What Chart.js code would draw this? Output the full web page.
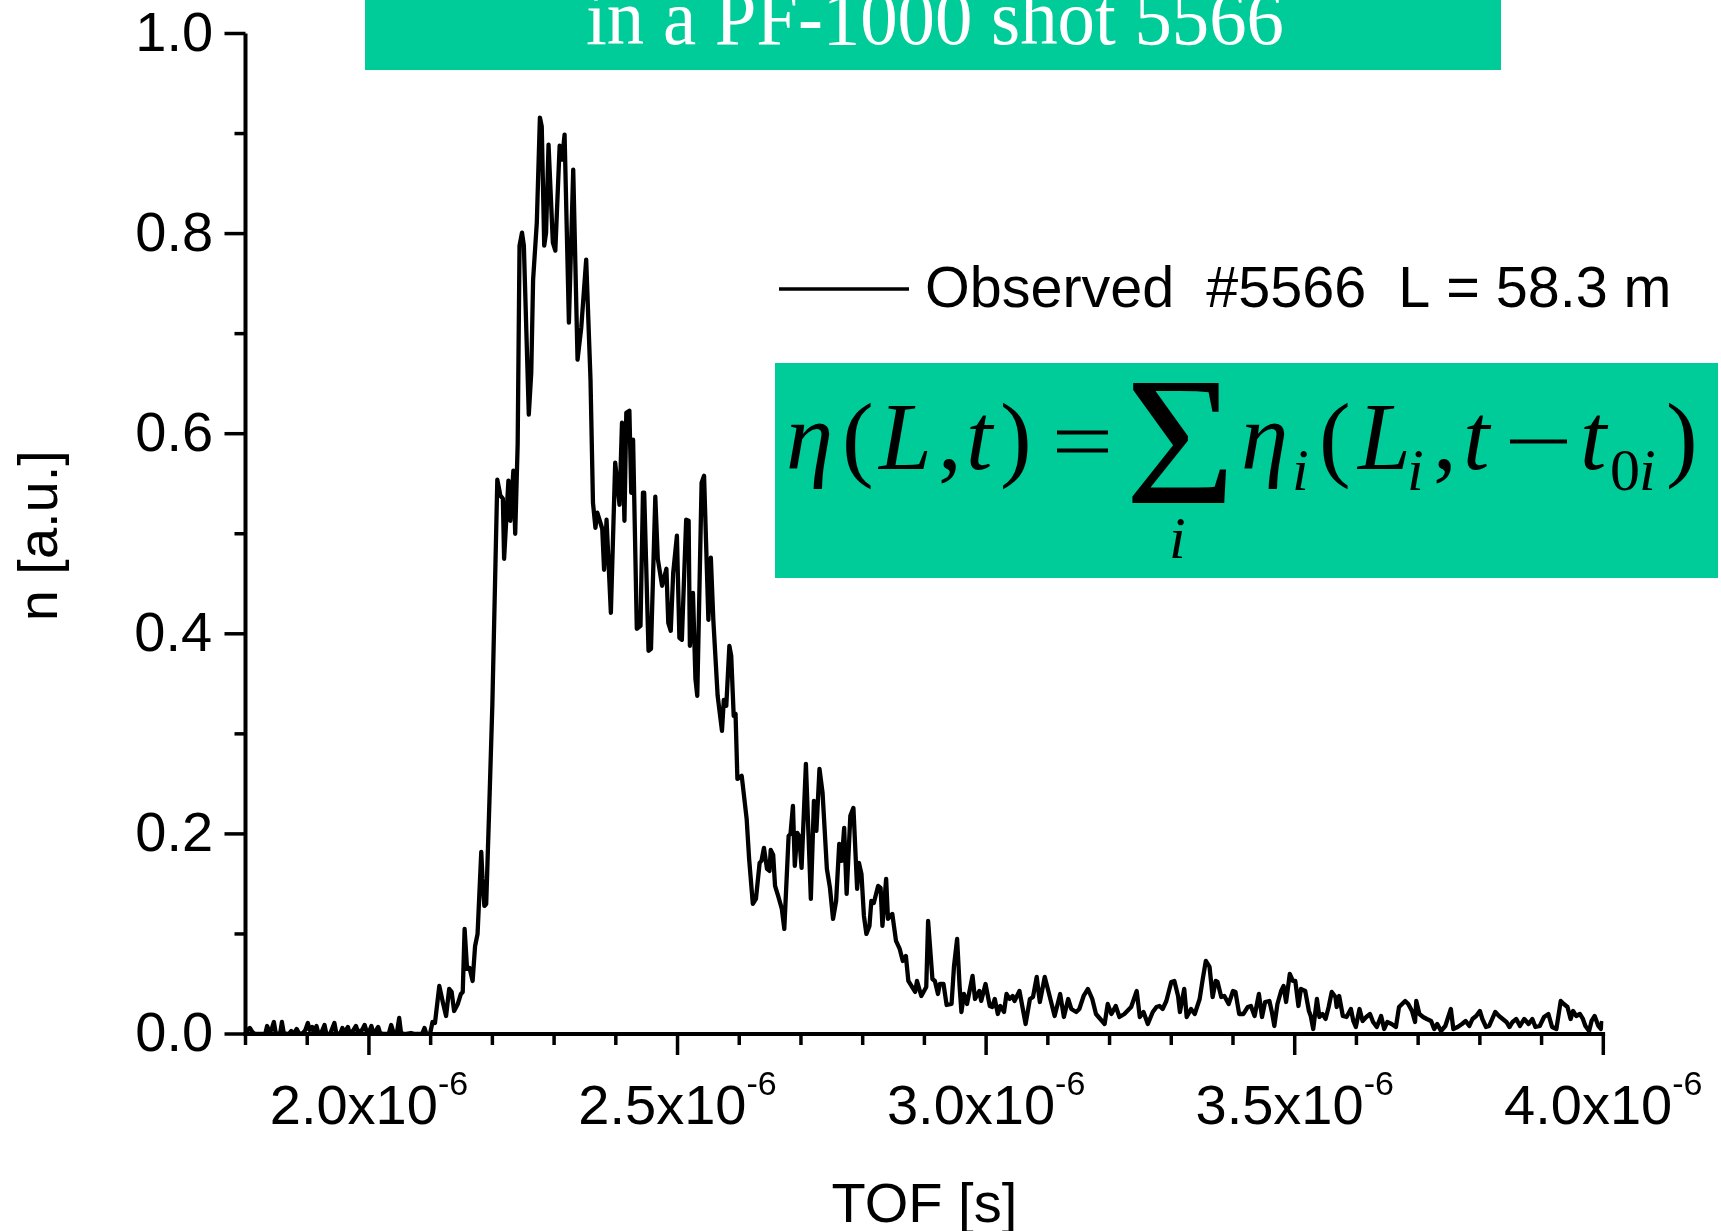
<!DOCTYPE html>
<html>
<head>
<meta charset="utf-8">
<script src="https://cdn.jsdelivr.net/npm/chart.js@4.4.1/dist/chart.umd.min.js"></script>
<style>
html,body{margin:0;padding:0;background:#fff;overflow:hidden}
canvas{display:block}
</style>
</head>
<body>
<canvas id="c" width="1721" height="1231"></canvas>
<script>
// ---------- DATA (TOF in units of 1e-6 s, signal in a.u.) ----------
const tofMicro = [
1.800,1.803,1.807,1.811,1.815,1.832,1.835,1.838,1.842,1.846,1.849,1.856,1.859,1.862,1.870,1.874,1.878,1.883,1.887,1.893,
1.897,1.901,1.904,1.908,1.911,1.915,1.918,1.922,1.928,1.931,1.937,1.944,1.947,1.953,1.957,1.960,1.966,1.969,1.975,1.979,
1.982,1.989,1.993,1.996,2.000,2.004,2.007,2.011,2.015,2.018,2.024,2.032,2.036,2.040,2.045,2.049,2.052,2.058,2.068,2.075,
2.086,2.090,2.093,2.099,2.103,2.107,2.114,2.120,2.125,2.130,2.134,2.138,2.144,2.149,2.152,2.155,2.159,2.163,2.168,2.172,
2.176,2.182,2.184,2.187,2.190,2.195,2.200,2.205,2.208,2.213,2.217,2.219,2.226,2.229,2.234,2.237,2.241,2.244,2.248,2.251,
2.259,2.263,2.266,2.272,2.277,2.280,2.284,2.287,2.291,2.298,2.302,2.309,2.313,2.317,2.324,2.331,2.338,2.344,2.352,2.359,
2.363,2.367,2.370,2.378,2.381,2.385,2.392,2.399,2.406,2.410,2.414,2.417,2.422,2.425,2.428,2.434,2.440,2.444,2.446,2.453,
2.457,2.464,2.468,2.475,2.482,2.485,2.489,2.493,2.499,2.503,2.507,2.514,2.518,2.520,2.525,2.529,2.532,2.539,2.543,2.550,
2.554,2.558,2.565,2.572,2.575,2.579,2.584,2.587,2.591,2.594,2.597,2.604,2.612,2.616,2.622,2.627,2.633,2.636,2.640,2.645,
2.649,2.651,2.655,2.658,2.663,2.669,2.673,2.680,2.683,2.687,2.690,2.694,2.697,2.701,2.708,2.716,2.721,2.725,2.730,2.735,
2.742,2.747,2.752,2.757,2.762,2.766,2.770,2.774,2.780,2.785,2.791,2.794,2.798,2.802,2.806,2.811,2.814,2.818,2.825,2.829,
2.832,2.838,2.841,2.848,2.854,2.860,2.865,2.870,2.874,2.885,2.888,2.895,2.903,2.906,2.913,2.917,2.922,2.925,2.931,2.936,
2.944,2.948,2.953,2.957,2.960,2.964,2.969,2.978,2.982,2.989,2.992,2.999,3.006,3.010,3.014,3.019,3.023,3.029,3.033,3.038,
3.043,3.046,3.054,3.064,3.071,3.076,3.082,3.087,3.095,3.100,3.111,3.120,3.126,3.133,3.138,3.146,3.151,3.158,3.165,3.172,
3.178,3.185,3.192,3.197,3.203,3.210,3.216,3.224,3.235,3.244,3.249,3.255,3.262,3.270,3.276,3.281,3.286,3.292,3.300,3.305,
3.311,3.314,3.321,3.325,3.332,3.338,3.346,3.351,3.356,3.362,3.367,3.372,3.375,3.381,3.386,3.393,3.400,3.404,3.410,3.417,
3.424,3.429,3.435,3.442,3.447,3.452,3.459,3.463,3.467,3.472,3.478,3.482,3.486,3.492,3.497,3.501,3.506,3.510,3.517,3.523,
3.526,3.530,3.536,3.540,3.545,3.550,3.555,3.560,3.566,3.568,3.572,3.578,3.584,3.591,3.595,3.599,3.605,3.610,3.616,3.622,
3.627,3.633,3.640,3.645,3.650,3.657,3.664,3.669,3.679,3.684,3.690,3.695,3.697,3.702,3.708,3.714,3.721,3.726,3.731,3.737,
3.744,3.753,3.757,3.764,3.771,3.777,3.783,3.788,3.794,3.800,3.804,3.810,3.815,3.825,3.831,3.837,3.843,3.848,3.853,3.859,
3.865,3.872,3.879,3.885,3.890,3.897,3.904,3.911,3.917,3.924,3.931,3.936,3.942,3.947,3.951,3.956,3.962,3.967,3.971,3.977,
3.981,3.986,3.992,3.996,3.998
];
const neutronSignal = [
0.000,0.004,0.006,0.002,0.000,0.000,0.008,0.003,0.004,0.012,0.001,0.000,0.012,0.001,0.000,0.003,0.000,0.005,0.000,0.001,
0.004,0.011,0.004,0.007,0.001,0.008,0.001,0.000,0.009,0.000,0.000,0.011,0.001,0.000,0.006,0.001,0.007,0.000,0.004,0.008,
0.002,0.004,0.009,0.003,0.002,0.008,0.001,0.003,0.007,0.001,0.000,0.000,0.009,0.001,0.000,0.016,0.001,0.000,0.001,0.000,
0.000,0.006,0.000,0.000,0.012,0.011,0.048,0.031,0.018,0.045,0.042,0.023,0.030,0.040,0.042,0.105,0.065,0.066,0.053,0.088,
0.100,0.182,0.155,0.128,0.130,0.228,0.330,0.470,0.554,0.538,0.535,0.475,0.553,0.513,0.563,0.500,0.590,0.788,0.801,0.788,
0.619,0.661,0.754,0.811,0.916,0.907,0.788,0.801,0.889,0.791,0.783,0.888,0.874,0.899,0.711,0.864,0.674,0.706,0.774,0.654,
0.531,0.506,0.521,0.505,0.464,0.514,0.421,0.571,0.529,0.611,0.513,0.621,0.623,0.541,0.594,0.405,0.408,0.541,0.541,0.383,
0.385,0.537,0.475,0.448,0.465,0.411,0.403,0.461,0.498,0.396,0.394,0.514,0.513,0.388,0.441,0.355,0.338,0.551,0.558,0.414,
0.476,0.414,0.338,0.303,0.334,0.328,0.388,0.378,0.318,0.320,0.255,0.258,0.215,0.175,0.130,0.135,0.171,0.173,0.186,0.165,
0.163,0.184,0.179,0.148,0.138,0.125,0.105,0.198,0.200,0.228,0.168,0.201,0.198,0.166,0.270,0.135,0.233,0.203,0.265,0.241,
0.165,0.146,0.115,0.133,0.190,0.173,0.206,0.140,0.218,0.226,0.145,0.171,0.160,0.118,0.100,0.108,0.133,0.131,0.148,0.146,
0.108,0.155,0.115,0.120,0.093,0.085,0.073,0.078,0.053,0.042,0.053,0.038,0.047,0.113,0.055,0.053,0.040,0.050,0.050,0.029,
0.030,0.068,0.095,0.048,0.022,0.040,0.030,0.058,0.035,0.043,0.033,0.050,0.028,0.027,0.035,0.020,0.028,0.022,0.040,0.035,
0.038,0.033,0.043,0.010,0.035,0.037,0.057,0.032,0.057,0.045,0.018,0.040,0.017,0.035,0.025,0.022,0.025,0.038,0.045,0.035,
0.020,0.015,0.010,0.030,0.020,0.028,0.017,0.020,0.027,0.043,0.017,0.022,0.010,0.022,0.027,0.028,0.025,0.033,0.052,0.053,
0.038,0.022,0.045,0.017,0.025,0.020,0.035,0.055,0.073,0.067,0.037,0.053,0.052,0.037,0.038,0.030,0.043,0.042,0.020,0.020,
0.027,0.028,0.018,0.040,0.017,0.032,0.033,0.022,0.008,0.030,0.043,0.048,0.032,0.060,0.053,0.053,0.028,0.045,0.043,0.023,
0.018,0.005,0.035,0.017,0.020,0.015,0.027,0.042,0.037,0.027,0.038,0.018,0.017,0.025,0.013,0.007,0.025,0.013,0.017,0.020,
0.012,0.007,0.018,0.005,0.012,0.010,0.007,0.027,0.033,0.030,0.023,0.012,0.033,0.020,0.017,0.015,0.013,0.005,0.010,0.003,
0.008,0.025,0.005,0.007,0.010,0.013,0.008,0.015,0.018,0.023,0.015,0.007,0.008,0.022,0.018,0.015,0.012,0.007,0.012,0.015,
0.008,0.015,0.010,0.015,0.007,0.008,0.017,0.020,0.007,0.005,0.033,0.030,0.027,0.015,0.023,0.018,0.020,0.015,0.008,0.003,
0.013,0.018,0.008,0.005,0.013
];
const xMajorTicks = [2.0, 2.5, 3.0, 3.5, 4.0];
const xTickLabels = ['2.0x10', '2.5x10', '3.0x10', '3.5x10', '4.0x10'];
const xTickExponent = '-6';
const xMinorTicks = [1.8,1.9,2.1,2.2,2.3,2.4,2.6,2.7,2.8,2.9,3.1,3.2,3.3,3.4,3.6,3.7,3.8,3.9];
const yMajorTicks = [0.0, 0.2, 0.4, 0.6, 0.8, 1.0];
const yTickLabels = ['0.0', '0.2', '0.4', '0.6', '0.8', '1.0'];
const yMinorTicks = [0.1, 0.3, 0.5, 0.7, 0.9];
const seriesName = 'Observed  #5566  L = 58.3 m';
const titleText = 'in a PF-1000 shot 5566';
const xTitle = 'TOF [s]';
const yTitle = 'n [a.u.]';

// ---------- helpers ----------
const GREEN = '#00CC99';
function inkLeft(ctx, text, font, left, baseline, width) {
  ctx.font = font;
  ctx.textAlign = 'left';
  ctx.textBaseline = 'alphabetic';
  const m = ctx.measureText(text);
  const w = m.actualBoundingBoxLeft + m.actualBoundingBoxRight;
  const sx = width ? width / w : 1;
  ctx.save();
  ctx.translate(left, baseline);
  ctx.scale(sx, 1);
  ctx.fillText(text, m.actualBoundingBoxLeft, 0);
  ctx.restore();
}
function inkRight(ctx, text, font, right, baseline) {
  ctx.font = font;
  ctx.textAlign = 'left';
  ctx.textBaseline = 'alphabetic';
  const m = ctx.measureText(text);
  ctx.fillText(text, right - m.actualBoundingBoxRight, baseline);
}
function fitBox(ctx, text, font, l, r, t, b) {
  ctx.font = font;
  ctx.textAlign = 'left';
  ctx.textBaseline = 'alphabetic';
  const m = ctx.measureText(text);
  const w = m.actualBoundingBoxLeft + m.actualBoundingBoxRight;
  const h = m.actualBoundingBoxAscent + m.actualBoundingBoxDescent;
  ctx.save();
  ctx.translate(l, t);
  ctx.scale((r - l) / w, (b - t) / h);
  ctx.fillText(text, m.actualBoundingBoxLeft, m.actualBoundingBoxAscent);
  ctx.restore();
}

const decor = {
  id: 'decor',
  beforeDraw(chart) {
    const ctx = chart.ctx;
    ctx.save();
    ctx.fillStyle = '#fff';
    ctx.fillRect(0, 0, chart.width, chart.height);
    ctx.restore();
  },
  afterDraw(chart) {
    const ctx = chart.ctx;
    const xs = chart.scales.x, ys = chart.scales.y;
    const yb = ys.getPixelForValue(0), yt = ys.getPixelForValue(1);
    const xl = xs.getPixelForValue(1.8), xr = xs.getPixelForValue(4.0);
    ctx.save();
    ctx.strokeStyle = '#000';
    ctx.fillStyle = '#000';
    ctx.lineCap = 'butt';
    // axis lines
    ctx.lineWidth = 4;
    ctx.beginPath(); ctx.moveTo(xl, yb + 2); ctx.lineTo(xl, yt); ctx.stroke();
    ctx.beginPath(); ctx.moveTo(xl - 2, yb); ctx.lineTo(xr + 1.8, yb); ctx.stroke();
    // ticks
    ctx.lineWidth = 3.5;
    const MAJ = 21, MIN = 11;
    xMajorTicks.forEach(v => { const p = xs.getPixelForValue(v); ctx.beginPath(); ctx.moveTo(p, yb); ctx.lineTo(p, yb + MAJ); ctx.stroke(); });
    xMinorTicks.forEach(v => { const p = xs.getPixelForValue(v); ctx.beginPath(); ctx.moveTo(p, yb); ctx.lineTo(p, yb + MIN); ctx.stroke(); });
    yMajorTicks.forEach(v => { const p = ys.getPixelForValue(v); ctx.beginPath(); ctx.moveTo(xl, p); ctx.lineTo(xl - MAJ, p); ctx.stroke(); });
    yMinorTicks.forEach(v => { const p = ys.getPixelForValue(v); ctx.beginPath(); ctx.moveTo(xl, p); ctx.lineTo(xl - MIN, p); ctx.stroke(); });
    // y tick labels
    const lblFont = '56px "Liberation Sans", Arial, sans-serif';
    yMajorTicks.forEach((v, i) => inkRight(ctx, yTickLabels[i], lblFont, 211, ys.getPixelForValue(v) + 17));
    // x tick labels with superscript exponent
    const supFont = '34px "Liberation Sans", Arial, sans-serif';
    ctx.textAlign = 'left'; ctx.textBaseline = 'alphabetic';
    xMajorTicks.forEach((v, i) => {
      const p = xs.getPixelForValue(v);
      ctx.font = lblFont;
      const w1 = ctx.measureText(xTickLabels[i]).width;
      ctx.font = supFont;
      const w2 = ctx.measureText(xTickExponent).width;
      const start = p - (w1 + w2) / 2;
      ctx.font = lblFont; ctx.fillText(xTickLabels[i], start, 1124);
      ctx.font = supFont; ctx.fillText(xTickExponent, start + w1, 1095);
    });
    // axis titles
    ctx.font = '56px "Liberation Sans", Arial, sans-serif';
    ctx.textAlign = 'center'; ctx.textBaseline = 'alphabetic';
    ctx.fillText(xTitle, (xl + xr) / 2, 1222);
    ctx.save();
    ctx.translate(57, (yb + yt) / 2 + 2);
    ctx.rotate(-Math.PI / 2);
    ctx.fillText(yTitle, 0, 0);
    ctx.restore();
    // legend
    ctx.lineWidth = 3.5;
    ctx.beginPath(); ctx.moveTo(779, 289); ctx.lineTo(909, 289); ctx.stroke();
    inkLeft(ctx, seriesName, '57px "Liberation Sans", Arial, sans-serif', 927, 307, 741);
    // title box
    ctx.fillStyle = GREEN;
    ctx.fillRect(365, 0, 1136, 70);
    ctx.fillStyle = '#fff';
    inkLeft(ctx, titleText, '78px "Liberation Serif", "Times New Roman", serif', 587, 43.5, 695);
    // formula box
    ctx.fillStyle = GREEN;
    ctx.fillRect(775, 363, 943, 215);
    ctx.fillStyle = '#000';
    const it = 'italic 95px "Liberation Serif", "Times New Roman", serif';
    const up = '95px "Liberation Serif", "Times New Roman", serif';
    const itS = 'italic 60px "Liberation Serif", "Times New Roman", serif';
    const upS = '60px "Liberation Serif", "Times New Roman", serif';
    const B = 469, BS = 490;
    inkLeft(ctx, '\u03B7', it, 789, B);
    inkLeft(ctx, '(', up, 846, B);
    inkLeft(ctx, 'L', it, 877, B);
    inkLeft(ctx, ',', up, 941, B);
    inkLeft(ctx, 't', it, 970, B);
    inkLeft(ctx, ')', up, 1003, B);
    // equals sign
    ctx.fillRect(1057, 430.5, 51, 4);
    ctx.fillRect(1057, 448.5, 51, 4);
    fitBox(ctx, '\u03A3', up, 1131, 1227, 382, 503);
    inkLeft(ctx, 'i', itS, 1172, 558);
    inkLeft(ctx, '\u03B7', it, 1244, B);
    inkLeft(ctx, 'i', itS, 1295, BS);
    inkLeft(ctx, '(', up, 1323, B);
    inkLeft(ctx, 'L', it, 1356, B);
    inkLeft(ctx, 'i', itS, 1410, BS);
    inkLeft(ctx, ',', up, 1436, B);
    inkLeft(ctx, 't', it, 1467, B);
    // minus sign
    ctx.fillRect(1510, 439.5, 57, 4);
    inkLeft(ctx, 't', it, 1584, B);
    inkLeft(ctx, '0', upS, 1612, BS);
    inkLeft(ctx, 'i', itS, 1642, BS);
    inkLeft(ctx, ')', up, 1669, B);
    ctx.restore();
  }
};

new Chart(document.getElementById('c'), {
  type: 'line',
  data: {
    datasets: [{
      label: seriesName,
      data: tofMicro.map((t, i) => ({ x: t, y: neutronSignal[i] })),
      borderColor: '#000',
      borderWidth: 4.3,
      borderJoinStyle: 'round',
      pointRadius: 0,
      tension: 0,
      fill: false
    }]
  },
  options: {
    responsive: false,
    animation: false,
    devicePixelRatio: 1,
    layout: { padding: { left: 245.5, right: 117.7, top: 33.5, bottom: 197 } },
    plugins: { legend: { display: false }, tooltip: { enabled: false }, title: { display: false } },
    scales: {
      x: { type: 'linear', min: 1.8, max: 4.0, display: false },
      y: { type: 'linear', min: 0, max: 1.0, display: false }
    }
  },
  plugins: [decor]
});
</script>
</body>
</html>
